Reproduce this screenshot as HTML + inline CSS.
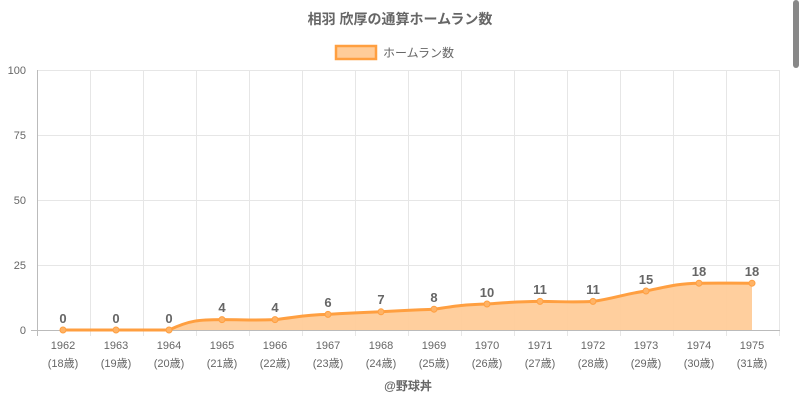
<!DOCTYPE html>
<html><head><meta charset="utf-8"><style>
body{margin:0;background:#fff;width:800px;height:400px;overflow:hidden;font-family:"Liberation Sans","Noto Sans CJK JP",sans-serif}
</style></head><body>
<svg width="800" height="400" xmlns="http://www.w3.org/2000/svg" font-family="Liberation Sans, Noto Sans CJK JP, sans-serif">
<text x="400" y="24" text-anchor="middle" font-size="14" font-weight="bold" fill="#666">相羽 欣厚の通算ホームラン数</text>
<rect x="336" y="46" width="40" height="13" fill="#ffcc99" stroke="#ff9f40" stroke-width="2.5"/>
<text x="383" y="57" font-size="12" fill="#666">ホームラン数</text>
<g stroke="#e6e6e6" stroke-width="1">
<line x1="37" y1="70.5" x2="780" y2="70.5"/><line x1="37" y1="135.5" x2="780" y2="135.5"/><line x1="37" y1="200.5" x2="780" y2="200.5"/><line x1="37" y1="265.5" x2="780" y2="265.5"/>
<line x1="90.5" y1="70" x2="90.5" y2="336"/><line x1="143.5" y1="70" x2="143.5" y2="336"/><line x1="196.5" y1="70" x2="196.5" y2="336"/><line x1="249.5" y1="70" x2="249.5" y2="336"/><line x1="302.5" y1="70" x2="302.5" y2="336"/><line x1="355.5" y1="70" x2="355.5" y2="336"/><line x1="408.5" y1="70" x2="408.5" y2="336"/><line x1="461.5" y1="70" x2="461.5" y2="336"/><line x1="514.5" y1="70" x2="514.5" y2="336"/><line x1="567.5" y1="70" x2="567.5" y2="336"/><line x1="620.5" y1="70" x2="620.5" y2="336"/><line x1="673.5" y1="70" x2="673.5" y2="336"/><line x1="726.5" y1="70" x2="726.5" y2="336"/><line x1="779.5" y1="70" x2="779.5" y2="336"/>
</g>
<line x1="31" y1="330.5" x2="780" y2="330.5" stroke="#bbb"/>
<line x1="37.5" y1="70" x2="37.5" y2="336" stroke="#bbb"/>
<g font-size="11" fill="#666" text-anchor="end">
<text x="26" y="74">100</text><text x="26" y="139">75</text><text x="26" y="204">50</text><text x="26" y="269">25</text><text x="26" y="334">0</text>
</g>
<path d="M63,330 L116,330 L169,330 C190,320 200,319.6 222,319.6 C245,319.6 252,320.5 275,319.6 C298,317 305,314.8 328,314.4 C350,313 360,312.6 381,311.8 C403,310.5 412,310.2 434,309.2 C455,306 465,304.5 487,304 C508,302.5 518,301.5 540,301.4 C562,301.5 572,302.5 593,301.4 C616,298 624,294 646,291 C668,286.5 678,283.5 699,283.2 C720,283 730,283.2 752,283.2 L752,330 L63,330 Z" fill="#ffcc99" fill-opacity="0.95"/>
<path d="M63,330 L116,330 L169,330 C190,320 200,319.6 222,319.6 C245,319.6 252,320.5 275,319.6 C298,317 305,314.8 328,314.4 C350,313 360,312.6 381,311.8 C403,310.5 412,310.2 434,309.2 C455,306 465,304.5 487,304 C508,302.5 518,301.5 540,301.4 C562,301.5 572,302.5 593,301.4 C616,298 624,294 646,291 C668,286.5 678,283.5 699,283.2 C720,283 730,283.2 752,283.2" fill="none" stroke="#ff9f40" stroke-width="3"/>
<g fill="#ffb366" stroke="#ff9f40" stroke-width="1">
<circle cx="63" cy="330" r="3"/><circle cx="116" cy="330" r="3"/><circle cx="169" cy="330" r="3"/><circle cx="222" cy="319.6" r="3"/><circle cx="275" cy="319.6" r="3"/><circle cx="328" cy="314.4" r="3"/><circle cx="381" cy="311.8" r="3"/><circle cx="434" cy="309.2" r="3"/><circle cx="487" cy="304" r="3"/><circle cx="540" cy="301.4" r="3"/><circle cx="593" cy="301.4" r="3"/><circle cx="646" cy="291" r="3"/><circle cx="699" cy="283.2" r="3"/><circle cx="752" cy="283.2" r="3"/>
</g>
<g font-size="13" font-weight="bold" fill="#666" text-anchor="middle">
<text x="63" y="323">0</text><text x="116" y="323">0</text><text x="169" y="323">0</text><text x="222" y="312">4</text><text x="275" y="312">4</text><text x="328" y="307">6</text><text x="381" y="304">7</text><text x="434" y="302">8</text><text x="487" y="297">10</text><text x="540" y="294">11</text><text x="593" y="294">11</text><text x="646" y="284">15</text><text x="699" y="276">18</text><text x="752" y="276">18</text>
</g>
<g font-size="11" fill="#666" text-anchor="middle">
<text x="63" y="349">1962</text><text x="116" y="349">1963</text><text x="169" y="349">1964</text><text x="222" y="349">1965</text><text x="275" y="349">1966</text><text x="328" y="349">1967</text><text x="381" y="349">1968</text><text x="434" y="349">1969</text><text x="487" y="349">1970</text><text x="540" y="349">1971</text><text x="593" y="349">1972</text><text x="646" y="349">1973</text><text x="699" y="349">1974</text><text x="752" y="349">1975</text>
<text x="63" y="367">(18歳)</text><text x="116" y="367">(19歳)</text><text x="169" y="367">(20歳)</text><text x="222" y="367">(21歳)</text><text x="275" y="367">(22歳)</text><text x="328" y="367">(23歳)</text><text x="381" y="367">(24歳)</text><text x="434" y="367">(25歳)</text><text x="487" y="367">(26歳)</text><text x="540" y="367">(27歳)</text><text x="593" y="367">(28歳)</text><text x="646" y="367">(29歳)</text><text x="699" y="367">(30歳)</text><text x="752" y="367">(31歳)</text>
</g>
<text x="408" y="390" text-anchor="middle" font-size="12" font-weight="bold" fill="#666">@野球丼</text>
<rect x="793" y="0" width="6" height="68" rx="3" fill="#888"/>
</svg>
</body></html>
